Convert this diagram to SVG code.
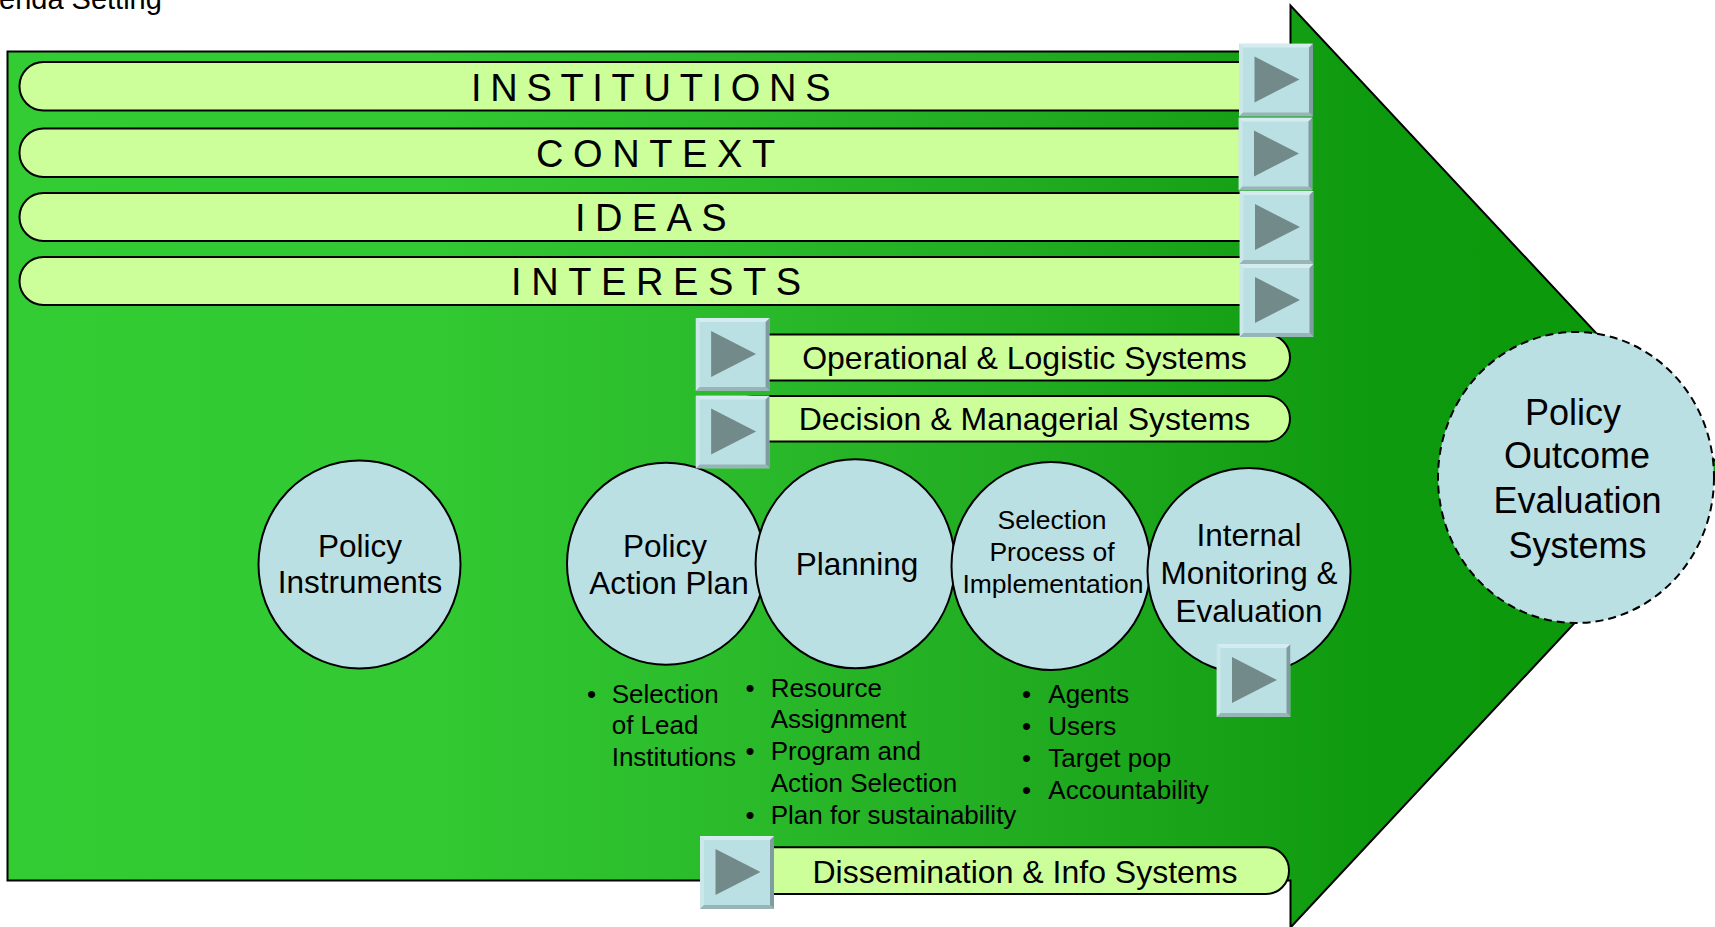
<svg xmlns="http://www.w3.org/2000/svg" width="1715" height="927" viewBox="0 0 1715 927">
<defs>
<linearGradient id="gArrow" gradientUnits="userSpaceOnUse" x1="0" y1="0" x2="1715" y2="0">
<stop offset="0" stop-color="#33CC33"/>
<stop offset="0.25" stop-color="#32C932"/>
<stop offset="0.4" stop-color="#2CBD2C"/>
<stop offset="0.58" stop-color="#22AD22"/>
<stop offset="0.73" stop-color="#15A015"/>
<stop offset="0.8" stop-color="#0E9A0E"/>
<stop offset="1" stop-color="#0A980A"/>
</linearGradient>
<symbol id="btn" viewBox="0 0 74 73" width="74" height="73">
<rect x="0" y="0" width="74" height="73" fill="#BBE0E3"/>
<polygon points="0,0 74,0 70,4 4,4" fill="#D4ECEF"/>
<polygon points="0,0 4,4 4,69 0,73" fill="#CBE7EA"/>
<polygon points="74,0 74,73 70,69 70,4" fill="#7F9CA0"/>
<polygon points="0,73 4,69 70,69 74,73" fill="#97B4B7"/>
<polygon points="15.5,13 60.5,36 15.5,59" fill="#738A8A"/>
</symbol>
</defs>
<style>
text{font-family:"Liberation Sans",Arial,Helvetica,sans-serif;fill:#000}
.bar{fill:#CCFF99;stroke:#000;stroke-width:2}
.node{fill:#BBE0E3;stroke:#000;stroke-width:2}
.cap{font-size:38px}
.sys{font-size:32px;text-anchor:middle}
.lbl{font-size:31.5px;text-anchor:middle}
.sm{font-size:26.5px;text-anchor:middle}
.big{font-size:36px;text-anchor:middle}
.bul{font-size:26px}
</style>
<rect width="1715" height="927" fill="#FFFFFF"/>
<text x="-1" y="9" style="font-size:29px">enda Setting</text>

<g id="arrow">
<path d="M7.5,51.5 H1290.5 V5.5 L1720.5,466.5 L1290.5,927.5 V880.5 H7.5 Z" fill="url(#gArrow)" stroke="#000" stroke-width="2"/>
</g>

<g id="connectors"></g>

<g id="institutions">
<rect class="bar" x="19.5" y="62" width="1245" height="48.5" rx="24" ry="24"/>
<text class="cap" x="471" y="100.5" style="letter-spacing:8.7px">INSTITUTIONS</text>
</g>
<g id="context">
<rect class="bar" x="19.5" y="128.5" width="1245" height="48.5" rx="24" ry="24"/>
<text class="cap" x="536" y="166.5" style="letter-spacing:9.6px">CONTEXT</text>
</g>
<g id="ideas">
<rect class="bar" x="19.5" y="193" width="1245" height="48" rx="24" ry="24"/>
<text class="cap" x="575" y="231" style="letter-spacing:9.4px">IDEAS</text>
</g>
<g id="interests">
<rect class="bar" x="19.5" y="257" width="1245" height="48" rx="24" ry="24"/>
<text class="cap" x="511" y="295" style="letter-spacing:9.6px">INTERESTS</text>
</g>

<g id="operational">
<rect class="bar" x="730" y="334.5" width="560" height="46" rx="23" ry="23"/>
<text class="sys" x="1024.5" y="369.3">Operational &amp; Logistic Systems</text>
</g>
<g id="decision">
<rect class="bar" x="730" y="396" width="560" height="45.5" rx="23" ry="23"/>
<text class="sys" x="1024.5" y="430.3">Decision &amp; Managerial Systems</text>
</g>

<g id="buttons-right">
<use href="#btn" x="1239" y="43.5"/>
<use href="#btn" x="1238.5" y="117.5"/>
<use href="#btn" x="1239.5" y="191"/>
<use href="#btn" x="1239.5" y="264"/>
</g>

<g id="policy-instruments">
<ellipse class="node" cx="359.5" cy="564.5" rx="101" ry="104"/>
<text class="lbl" x="360" y="556.7">Policy</text>
<text class="lbl" x="360" y="593.3">Instruments</text>
</g>
<g id="policy-action-plan">
<ellipse class="node" cx="666" cy="563.7" rx="99" ry="101"/>
<text class="lbl" x="665" y="556.7">Policy</text>
<text class="lbl" x="669" y="594.3">Action Plan</text>
</g>
<g id="planning">
<ellipse class="node" cx="855.3" cy="563.8" rx="99.7" ry="104.5"/>
<text class="lbl" x="857" y="575">Planning</text>
</g>
<g id="selection-process">
<ellipse class="node" cx="1051" cy="566" rx="99.5" ry="104"/>
<text class="sm" x="1052" y="529">Selection</text>
<text class="sm" x="1052" y="560.7">Process of</text>
<text class="sm" x="1053" y="592.7">Implementation</text>
</g>
<g id="internal-monitoring">
<ellipse class="node" cx="1249" cy="571" rx="101.5" ry="103"/>
<text class="lbl" x="1249" y="546">Internal</text>
<text class="lbl" x="1249" y="584">Monitoring &amp;</text>
<text class="lbl" x="1249" y="621.7">Evaluation</text>
</g>

<g id="buttons-left">
<use href="#btn" x="695.6" y="318"/>
<use href="#btn" x="695.6" y="395.5"/>
<use href="#btn" x="1216.5" y="644"/>
</g>

<g id="policy-outcome">
<ellipse cx="1576" cy="477.5" rx="138" ry="145.5" fill="#BBE0E3" stroke="#000" stroke-width="2" stroke-dasharray="8,5"/>
<text class="big" x="1573" y="425">Policy</text>
<text class="big" x="1577" y="467.7">Outcome</text>
<text class="big" x="1577.5" y="513.3">Evaluation</text>
<text class="big" x="1577.5" y="558.3">Systems</text>
</g>

<g id="bullets-action-plan" class="bul">
<text class="bul" x="587" y="702.7">•</text>
<text class="bul" x="611.7" y="702.7">Selection</text>
<text class="bul" x="611.7" y="734">of Lead</text>
<text class="bul" x="611.7" y="766">Institutions</text>
</g>
<g id="bullets-planning">
<text class="bul" x="745.5" y="696.7">•</text>
<text class="bul" x="770.7" y="696.7">Resource</text>
<text class="bul" x="770.7" y="728.3">Assignment</text>
<text class="bul" x="745.5" y="760">•</text>
<text class="bul" x="770.7" y="760">Program and</text>
<text class="bul" x="770.7" y="792.3">Action Selection</text>
<text class="bul" x="745.5" y="824">•</text>
<text class="bul" x="770.7" y="824">Plan for sustainability</text>
</g>
<g id="bullets-selection">
<text class="bul" x="1022" y="703.3">•</text>
<text class="bul" x="1048.3" y="703.3">Agents</text>
<text class="bul" x="1022" y="735.3">•</text>
<text class="bul" x="1048.3" y="735.3">Users</text>
<text class="bul" x="1022" y="767.3">•</text>
<text class="bul" x="1048.3" y="767.3">Target pop</text>
<text class="bul" x="1022" y="799.3">•</text>
<text class="bul" x="1048.3" y="799.3">Accountability</text>
</g>

<g id="dissemination">
<rect class="bar" x="740" y="847.3" width="549" height="46.7" rx="23" ry="23"/>
<text class="sys" x="1025" y="882.7">Dissemination &amp; Info Systems</text>
<use href="#btn" x="700" y="836"/>
</g>
</svg>
